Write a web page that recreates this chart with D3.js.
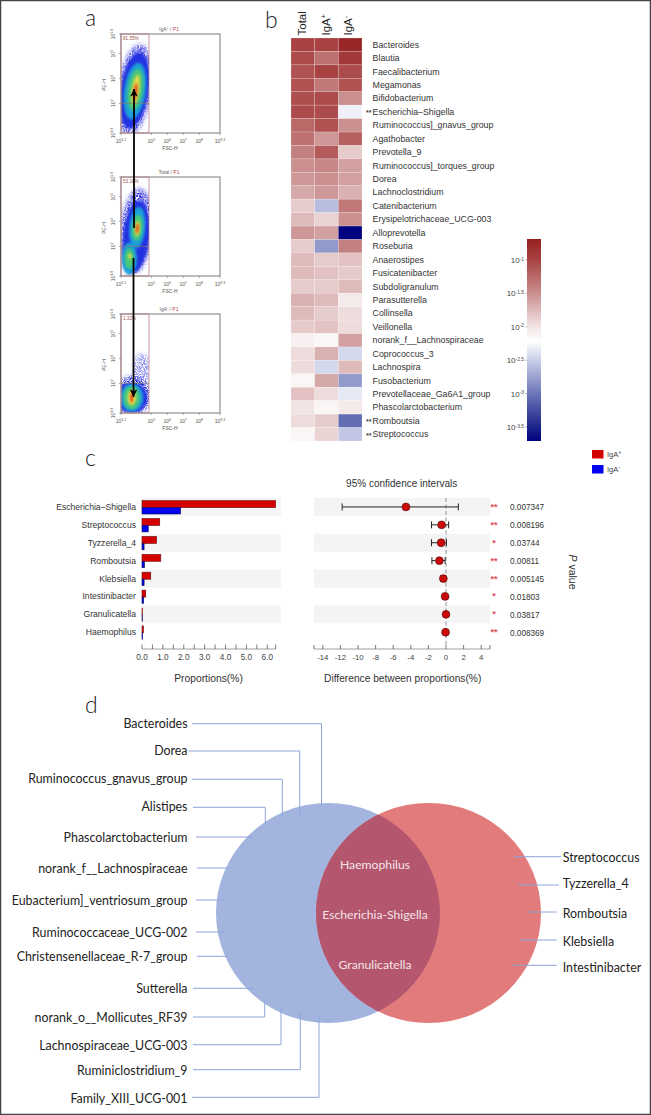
<!DOCTYPE html>
<html><head><meta charset="utf-8">
<script src="https://cdn.jsdelivr.net/npm/d3@7"></script>
<style>html,body{margin:0;background:#fff}svg{display:block}text{font-family:"Liberation Sans",Arial,sans-serif}</style>
</head><body><svg id="c" width="651" height="1115"></svg>
<script>
// ---------- heatmap data (log10 relative abundance) ----------
const heatColumns = ["Total","IgA+","IgA-"];
const heatTaxa = ["Bacteroides","Blautia","Faecalibacterium","Megamonas","Bifidobacterium","Escherichia–Shigella","Ruminococcus]_gnavus_group","Agathobacter","Prevotella_9","Ruminococcus]_torques_group","Dorea","Lachnoclostridium","Catenibacterium","Erysipelotrichaceae_UCG-003","Alloprevotella","Roseburia","Anaerostipes","Fusicatenibacter","Subdoligranulum","Parasutterella","Collinsella","Veillonella","norank_f__Lachnospiraceae","Coprococcus_3","Lachnospira","Fusobacterium","Prevotellaceae_Ga6A1_group","Phascolarctobacterium","Romboutsia","Streptococcus"];
const heatTotal = [-1.0,-1.05,-1.1,-1.1,-1.08,-1.05,-1.25,-1.3,-1.4,-1.5,-1.55,-1.65,-1.85,-1.75,-1.55,-1.85,-1.75,-1.75,-1.85,-1.7,-1.75,-1.85,-2.1,-1.95,-1.95,-2.15,-1.8,-2.0,-1.95,-2.15];
const heatPos = [-1.0,-1.3,-1.0,-1.35,-1.05,-1.05,-1.1,-1.55,-1.15,-1.45,-1.5,-1.55,-2.6,-1.9,-1.6,-2.8,-1.85,-1.8,-1.85,-1.75,-1.85,-1.8,-2.15,-1.7,-2.45,-1.65,-1.95,-2.15,-1.85,-1.9];
const heatNeg = [-0.75,-0.9,-1.05,-1.1,-1.5,-2.3,-1.5,-1.2,-1.85,-1.6,-1.6,-1.7,-1.35,-1.5,-3.7,-1.4,-1.8,-1.85,-1.75,-2.05,-1.95,-1.95,-1.6,-2.45,-1.75,-2.8,-2.35,-2.05,-3.05,-2.55];
const flaggedTaxa = ["Escherichia–Shigella","Romboutsia","Streptococcus"];
const colorTicks = [-1,-1.5,-2,-2.5,-3,-3.5];
const colorStops = [-0.69,-1,-1.5,-2,-2.22,-2.5,-3,-3.5,-3.71];
const colorRange = ["#962020","#a94343","#ca8f8f","#f2e4e4","#ffffff","#c9cfe8","#6d76b8","#1c2489","#00007f"];

// ---------- panel c data ----------
const diffTaxa = ["Escherichia–Shigella","Streptococcus","Tyzzerella_4","Romboutsia","Klebsiella","Intestinibacter","Granulicatella","Haemophilus"];
const propPos = [6.4,0.85,0.7,0.9,0.42,0.18,0.02,0.07];
const propNeg = [1.85,0.3,0.1,0.12,0.1,0.08,0.02,0.03];
const diffMean = [-4.55,-0.5,-0.55,-0.75,-0.3,-0.1,0,-0.05];
const diffLow = [-11.8,-1.65,-1.65,-1.6,-0.6,-0.3,-0.1,-0.15];
const diffHigh = [1.4,0.3,0.05,-0.1,-0.05,0.05,0.1,0.05];
const stars = ["**","**","*","**","**","*","*","**"];
const pValues = ["0.007347","0.008196","0.03744","0.00811","0.005145","0.01803","0.03817","0.008369"];
const propTicks = d3.range(0,6.01,1);
const diffTicks = [-14,-12,-10,-8,-6,-4,-2,0,2,4];

// ---------- flow cytometry: populations in log10 units ----------
const flowTitles = ["IgA+","Total","IgA-"];
const flowPercents = ["81.55%","53.18%","1.32%"];
const flowPopulations = [
  [{x:3.95,y:3.55,rx:1.05,ry:1.85,t:8,l:0},{x:3.95,y:3.52,rx:.88,ry:1.55,t:8,l:6},{x:3.97,y:3.5,rx:.68,ry:1.15,t:8,l:1},{x:4.0,y:3.55,rx:.48,ry:.85,t:8,l:2},{x:4.02,y:3.55,rx:.24,ry:.6,t:8,l:3},{x:4.0,y:3.45,rx:.12,ry:.36,t:8,l:4}],
  [{x:4.05,y:3.6,rx:1.0,ry:1.75,t:5,l:0},{x:4.05,y:3.4,rx:.82,ry:1.45,t:5,l:6},{x:3.62,y:2.5,rx:.48,ry:.65,t:0,l:1},{x:4.12,y:3.75,rx:.5,ry:.85,t:5,l:1},{x:4.12,y:3.75,rx:.34,ry:.52,t:5,l:2},{x:3.62,y:2.5,rx:.3,ry:.42,t:0,l:2},{x:4.12,y:3.72,rx:.16,ry:.3,t:5,l:3},{x:3.65,y:2.6,rx:.1,ry:.12,t:0,l:3},{x:4.12,y:3.72,rx:.09,ry:.2,t:5,l:4}],
  [{x:4.4,y:3.55,rx:.55,ry:.65,t:0,l:5},{x:3.8,y:2.5,rx:1.15,ry:.78,t:0,l:0},{x:3.8,y:2.42,rx:.95,ry:.6,t:0,l:6},{x:3.78,y:2.42,rx:.72,ry:.56,t:0,l:1},{x:3.77,y:2.42,rx:.52,ry:.46,t:0,l:2},{x:3.77,y:2.42,rx:.26,ry:.3,t:0,l:3},{x:3.77,y:2.42,rx:.1,ry:.19,t:0,l:4}]
];
const flowLevels = ["#2b2fe0","#1f9fd8","#48c878","#e6d84a","#e2501c","#9498f0","#2030e0"];
const flowXTicks = [[3.1,"3.1"],[5,"5"],[6,"6"],[7,"7"],[8,"8"],[9.3,"9.3"]];
const flowYTicks = [[1.8,"1.8"],[3,"3"],[4,"4"],[5,"5"],[5.8,"5.8"]];

// ---------- Venn labels ----------
const onlyTotal = ["Bacteroides","Dorea","Ruminococcus_gnavus_group","Alistipes","Phascolarctobacterium","norank_f__Lachnospiraceae","Eubacterium]_ventriosum_group","Ruminococcaceae_UCG-002","Christensenellaceae_R-7_group","Sutterella","norank_o__Mollicutes_RF39","Lachnospiraceae_UCG-003","Ruminiclostridium_9","Family_XIII_UCG-001"];
const onlyRight = ["Streptococcus","Tyzzerella_4","Romboutsia","Klebsiella","Intestinibacter"];
const shared = ["Haemophilus","Escherichia-Shigella","Granulicatella"];

// ---------- layout (no data) ----------
const leftLayout = [[723,192,723.7,321.5,805.7],[750,188.5,751,299.7,815],[778,192,779.3,282.3,817],[806.5,193,807.3,265.3,825],[837,196,837,252],[868,197,868,228.7],[900,196,900,224],[932,196,932,224],[956,197,956.3,226.7],[988,193,988.3,253],[1017,193,1017,264.7,1000.7],[1045,193,1044.7,281,1007],[1070,193,1069.7,300.3,1012],[1098,192,1097.3,319,1016]];
const rightLayout = [[857,514,856.7,561],[883,518,885,559],[913,526.7,912,556.7],[941,520,940,556.7],[967,512.7,965.3,556.7]];
const flowTops = [34,177,314];
const svg = d3.select("#c");
const defs = svg.append("defs");

svg.append("rect").attr("x",.5).attr("y",.5).attr("width",650).attr("height",1114).attr("fill","#fff").attr("stroke","#444").attr("stroke-width",1.5);

function letter(t,x,y){svg.append("text").attr("x",x).attr("y",y).attr("font-size",23).attr("font-weight",300).style("font-family","Lato,'Open Sans',sans-serif").attr("fill","#222").text(t);}
letter("a",85,26);letter("b",265,28);letter("c",85,466);letter("d",85,713);

function sup(sel,base,exp,size){ sel.append("tspan").text(base); sel.append("tspan").attr("dy",-size*.35).attr("font-size",size*.7).text(exp);}

// ---------- panel a ----------
const blur = defs.append("filter").attr("id","soft").attr("x","-20%").attr("y","-20%").attr("width","140%").attr("height","140%");
blur.append("feGaussianBlur").attr("stdDeviation",1.3);
const grain = defs.append("filter").attr("id","grain").attr("x","-20%").attr("y","-20%").attr("width","140%").attr("height","140%");
grain.append("feGaussianBlur").attr("in","SourceGraphic").attr("stdDeviation",2.2).attr("result","b");
grain.append("feTurbulence").attr("type","fractalNoise").attr("baseFrequency",.9).attr("numOctaves",2).attr("seed",4).attr("result","n");
grain.append("feColorMatrix").attr("in","n").attr("type","matrix").attr("values","0 0 0 0 0 0 0 0 0 0 0 0 0 0 0 0 0 0 5 -1.9").attr("result","m");
grain.append("feComposite").attr("in","b").attr("in2","m").attr("operator","in");

flowTops.forEach((top,i)=>{
  const fx=d3.scaleLog().domain([10**3.1,10**9.3]).range([121,220]);
  const fy=d3.scaleLog().domain([10**1.8,10**5.8]).range([top+99,top]);
  const g=svg.append("g");
  const clipId="gate"+i;
  defs.append("clipPath").attr("id",clipId).append("rect").attr("x",fx(10**3.1)).attr("y",fy(10**5.8)).attr("width",28).attr("height",99);
  const pops=g.append("g").attr("clip-path",`url(#${clipId})`).append("g");
  pops.selectAll("ellipse").data(flowPopulations[i]).join("ellipse")
    .attr("cx",d=>fx(10**d.x)).attr("cy",d=>fy(10**d.y))
    .attr("rx",d=>fx(10**(d.x+d.rx))-fx(10**d.x)).attr("ry",d=>fy(10**d.y)-fy(10**(d.y+d.ry)))
    .attr("transform",d=>`rotate(${d.t} ${fx(10**d.x)} ${fy(10**d.y)})`)
    .attr("fill",d=>flowLevels[d.l])
    .attr("filter",d=>(d.l===0||d.l===5)?"url(#grain)":"url(#soft)");
  g.append("rect").attr("x",121).attr("y",top).attr("width",99).attr("height",99).attr("fill","none").attr("stroke","#999").attr("stroke-width",1.3);
  g.append("rect").attr("x",121).attr("y",top).attr("width",28).attr("height",99).attr("fill","none").attr("stroke","#b5747c").attr("stroke-width",.7);
  g.append("line").attr("x1",121).attr("x2",149).attr("y1",fy(1000)).attr("y2",fy(1000)).attr("stroke","#8a7a70").attr("stroke-width",.7);
  flowXTicks.forEach(([v,l])=>{
    const x=fx(10**v);
    g.append("line").attr("x1",x).attr("x2",x).attr("y1",top+99).attr("y2",top+101).attr("stroke","#777").attr("stroke-width",.6);
    const t=g.append("text").attr("x",x).attr("y",top+109).attr("text-anchor","middle").attr("font-size",5).attr("fill","#555");
    sup(t,"10",l,5);
  });
  flowYTicks.forEach(([v,l])=>{
    const y=fy(10**v);
    g.append("line").attr("x1",119).attr("x2",121).attr("y1",y).attr("y2",y).attr("stroke","#777").attr("stroke-width",.6);
    const t=g.append("text").attr("transform",`translate(115,${y}) rotate(-90)`).attr("text-anchor","middle").attr("font-size",5).attr("fill","#555");
    sup(t,"10",l,5);
  });
  g.append("text").attr("x",170).attr("y",top+116).attr("text-anchor","middle").attr("font-size",5).attr("fill","#555").text("FSC-H");
  g.append("text").attr("transform",`translate(106,${top+51}) rotate(-90)`).attr("text-anchor","middle").attr("font-size",5).attr("fill","#555").text("PE-H");
  const tt=g.append("text").attr("x",169).attr("y",top-3.5).attr("text-anchor","middle").attr("font-size",5).attr("fill","#666");
  const m=flowTitles[i].match(/^(IgA)([+-])$/);
  if(m){tt.append("tspan").text(m[1]);tt.append("tspan").attr("dy",-1.5).attr("font-size",3.5).text(m[2]);tt.append("tspan").attr("dy",1.5).text(" / ");}
  else tt.append("tspan").text(flowTitles[i]+" / ");
  tt.append("tspan").attr("fill","#b5474f").text("P1");
  g.append("text").attr("x",123).attr("y",top+5.5).attr("font-size",4.6).attr("fill","#a05050").text(flowPercents[i]);
});
defs.append("marker").attr("id","arr").attr("viewBox","0 0 10 10").attr("refX",10).attr("refY",5).attr("markerWidth",4.2).attr("markerHeight",4.4).attr("orient","auto-start-reverse").append("path").attr("d","M0,0L10,5L0,10L2.5,5Z").attr("fill","#000");
svg.append("line").attr("x1",134).attr("x2",134).attr("y1",228).attr("y2",89).attr("stroke","#000").attr("stroke-width",1.8).attr("marker-end","url(#arr)");
svg.append("line").attr("x1",133.5).attr("x2",133.5).attr("y1",258).attr("y2",397).attr("stroke","#000").attr("stroke-width",1.8).attr("marker-end","url(#arr)");

// ---------- panel b ----------
const heatX=d3.scaleBand().domain(heatColumns).range([291,362]);
const heatY=d3.scaleBand().domain(heatTaxa).range([38,441]);
const heatColor=d3.scaleLinear().domain(colorStops).range(colorRange).clamp(true);
const heatSeries=[heatTotal,heatPos,heatNeg];
heatColumns.forEach((c,j)=>{
  svg.append("g").selectAll("rect").data(heatTaxa).join("rect")
    .attr("x",heatX(c)).attr("y",d=>heatY(d)).attr("width",heatX.bandwidth()).attr("height",heatY.bandwidth())
    .attr("fill",(d,i)=>heatColor(heatSeries[j][i])).attr("stroke","#fff").attr("stroke-opacity",.3).attr("stroke-width",.6);
  const t=svg.append("text").attr("transform",`translate(${heatX(c)+heatX.bandwidth()/2+(j==0?3:j==1?3:2)},35.5) rotate(-90)`).attr("font-size",11.5).attr("fill","#222");
  const m=c.match(/^(IgA)([+-])$/);
  if(m){t.append("tspan").text("Ig");t.append("tspan").text("A");t.append("tspan").attr("dy",-4).attr("font-size",7).text(m[2]==="+"?"+":"-");}
  else t.text(c);
});
svg.append("g").selectAll("text").data(heatTaxa).join("text")
  .attr("x",372.6).attr("y",d=>heatY(d)+heatY.bandwidth()/2+3).attr("font-size",8.8).attr("fill","#333").text(d=>d);
svg.append("g").selectAll("text").data(flaggedTaxa).join("text")
  .attr("x",366).attr("y",d=>heatY(d)+heatY.bandwidth()/2+3.6).attr("font-size",7).attr("font-weight","bold").attr("fill","#444").text("**");

const cbY=d3.scaleLinear().domain([-3.71,-0.686]).range([441,239]);
const grad=defs.append("linearGradient").attr("id","cb").attr("x1",0).attr("x2",0).attr("y1",1).attr("y2",0);
colorStops.map((v,i)=>({v,c:colorRange[i]})).sort((a,b)=>a.v-b.v).forEach(s=>grad.append("stop").attr("offset",(s.v+3.71)/(3.71-0.686)).attr("stop-color",s.c));
svg.append("rect").attr("x",527).attr("y",239).attr("width",14).attr("height",202).attr("fill","url(#cb)");
colorTicks.forEach(v=>{
  svg.append("line").attr("x1",525.5).attr("x2",527).attr("y1",cbY(v)).attr("y2",cbY(v)).attr("stroke","#777").attr("stroke-width",.6);
  const t=svg.append("text").attr("x",524).attr("y",cbY(v)+3).attr("text-anchor","end").attr("font-size",8).attr("fill","#444");
  sup(t,"10",String(v),7);
});

// ---------- legend ----------
[["#d40000","+",450],["#0000ee","-",465]].forEach(([c,s,y])=>{
  svg.append("rect").attr("x",592).attr("y",y).attr("width",11.5).attr("height",8.5).attr("fill",c);
  const t=svg.append("text").attr("x",607).attr("y",y+7).attr("font-size",7.5).attr("fill","#444");
  sup(t,"IgA",s,7.5);
});

// ---------- panel c ----------
const rowY=d3.scaleBand().domain(diffTaxa).range([498,641.2]);
const px=d3.scaleLinear().domain([0,6]).range([142,267.3]);
const dx=d3.scaleLinear().domain([-15,5]).range([314,490]);
const bands=diffTaxa.filter((d,i)=>i%2===0);
svg.append("g").selectAll("rect").data(bands).join("rect").attr("x",142).attr("width",139).attr("y",d=>rowY(d)).attr("height",rowY.bandwidth()).attr("fill","#f4f4f4");
svg.append("g").selectAll("rect").data(bands).join("rect").attr("x",dx(-15)).attr("width",dx(5)-dx(-15)).attr("y",d=>rowY(d)).attr("height",rowY.bandwidth()).attr("fill","#f4f4f4");
svg.append("g").selectAll("rect").data(diffTaxa).join("rect").attr("x",px(0)).attr("y",d=>rowY(d)+2.6).attr("height",7).attr("width",(d,i)=>px(propPos[i])-px(0)).attr("fill","#d40000").attr("stroke","#6b1010").attr("stroke-width",.6);
svg.append("g").selectAll("rect").data(diffTaxa).join("rect").attr("x",px(0)).attr("y",d=>rowY(d)+9.6).attr("height",6.4).attr("width",(d,i)=>px(propNeg[i])-px(0)).attr("fill","#0000ee").attr("stroke","#101050").attr("stroke-width",.6);
svg.append("g").selectAll("text").data(diffTaxa).join("text").attr("x",136).attr("y",d=>rowY(d)+rowY.bandwidth()/2+3).attr("text-anchor","end").attr("font-size",8.6).attr("fill","#333").text(d=>d);
const axisY=649;
const pAxis=svg.append("g");
pAxis.append("line").attr("x1",px(0)).attr("x2",px(6.4)).attr("y1",axisY).attr("y2",axisY).attr("stroke","#888").attr("stroke-width",.8);
d3.range(0,6.41,.5).forEach(v=>pAxis.append("line").attr("x1",px(v)).attr("x2",px(v)).attr("y1",axisY-4.5).attr("y2",axisY).attr("stroke","#444").attr("stroke-width",.7));
pAxis.append("line").attr("x1",px(6.4)).attr("x2",px(6.4)).attr("y1",axisY-4.5).attr("y2",axisY).attr("stroke","#444").attr("stroke-width",.7);
pAxis.selectAll("text.t").data(propTicks).join("text").attr("x",d=>px(d)).attr("y",660).attr("text-anchor","middle").attr("font-size",8.2).attr("fill","#444").text(d=>d.toFixed(1));
svg.append("text").attr("x",208.5).attr("y",681.5).attr("text-anchor","middle").attr("font-size",10.3).attr("fill","#333").text("Proportions(%)");
svg.append("text").attr("x",401.7).attr("y",486.5).attr("text-anchor","middle").attr("font-size",10).attr("fill","#333").text("95% confidence intervals");
svg.append("line").attr("x1",dx(0)).attr("x2",dx(0)).attr("y1",498).attr("y2",645).attr("stroke","#888").attr("stroke-width",.9).attr("stroke-dasharray","4 2.5");
const ci=svg.append("g").attr("stroke","#222").attr("stroke-width",1);
diffTaxa.forEach((d,i)=>{
  const y=rowY(d)+rowY.bandwidth()/2;
  ci.append("line").attr("x1",dx(diffLow[i])).attr("x2",dx(diffHigh[i])).attr("y1",y).attr("y2",y);
  [diffLow[i],diffHigh[i]].forEach(v=>ci.append("line").attr("x1",dx(v)).attr("x2",dx(v)).attr("y1",y-3.5).attr("y2",y+3.5));
});
svg.append("g").selectAll("circle").data(diffTaxa).join("circle").attr("cx",(d,i)=>dx(diffMean[i])).attr("cy",d=>rowY(d)+rowY.bandwidth()/2).attr("r",3.9).attr("fill","#cc0a0a").attr("stroke","#5a1010").attr("stroke-width",.7);
svg.append("g").selectAll("text").data(diffTaxa).join("text").attr("x",494).attr("y",d=>rowY(d)+rowY.bandwidth()/2+3).attr("text-anchor","middle").attr("font-size",9).attr("font-weight","bold").attr("fill","#e0505f").text((d,i)=>stars[i]);
svg.append("g").selectAll("text").data(diffTaxa).join("text").attr("x",510).attr("y",d=>rowY(d)+rowY.bandwidth()/2+3.5).attr("font-size",8.2).attr("fill","#333").text((d,i)=>pValues[i]);
const dAxis=svg.append("g");
dAxis.append("line").attr("x1",dx(-15)).attr("x2",dx(5)).attr("y1",axisY).attr("y2",axisY).attr("stroke","#888").attr("stroke-width",.8);
[-15,...diffTicks,5].forEach(v=>dAxis.append("line").attr("x1",dx(v)).attr("x2",dx(v)).attr("y1",axisY-4).attr("y2",axisY).attr("stroke","#444").attr("stroke-width",.7));
dAxis.selectAll("text").data(diffTicks).join("text").attr("x",d=>dx(d)).attr("y",660).attr("text-anchor","middle").attr("font-size",7.8).attr("fill","#444").text(d=>d);
svg.append("text").attr("x",402.7).attr("y",681.5).attr("text-anchor","middle").attr("font-size",10.2).attr("fill","#333").text("Difference between proportions(%)");
const pv=svg.append("text").attr("transform","translate(569,572) rotate(90)").attr("text-anchor","middle").attr("font-size",10.5).attr("fill","#333");
pv.append("tspan").attr("font-style","italic").text("P");pv.append("tspan").text(" value");

// ---------- panel d ----------
const venn=svg.append("g");
venn.append("ellipse").attr("cx",328).attr("cy",913).attr("rx",112).attr("ry",110).attr("fill","#a3b4df");
venn.append("ellipse").attr("cx",428.5).attr("cy",913).attr("rx",112.5).attr("ry",110).attr("fill","#e27b7b");
defs.append("clipPath").attr("id","lens").append("ellipse").attr("cx",328).attr("cy",913).attr("rx",112).attr("ry",110);
venn.append("ellipse").attr("cx",428.5).attr("cy",913).attr("rx",112.5).attr("ry",110).attr("fill","#b3566e").attr("clip-path","url(#lens)");
const leaderColor="#8ea4d8";
onlyTotal.forEach((name,i)=>{
  const [ty,x0,y0,x1,y1]=leftLayout[i];
  const path=d3.path();path.moveTo(x0,y0);path.lineTo(x1,y0);if(y1!==undefined)path.lineTo(x1,y1);
  venn.append("path").attr("d",path.toString()).attr("fill","none").attr("stroke",leaderColor).attr("stroke-width",1);
  venn.append("text").attr("x",187.5).attr("y",ty+4.5).attr("text-anchor","end").attr("font-size",12.4).style("font-family","Lato,Carlito,sans-serif").attr("fill","#222").text(name);
});
onlyRight.forEach((name,i)=>{
  const [ty,x0,y0,x1]=rightLayout[i];
  venn.append("line").attr("x1",x0).attr("x2",x1).attr("y1",y0).attr("y2",y0).attr("stroke",leaderColor).attr("stroke-width",1);
  venn.append("text").attr("x",562.7).attr("y",ty+4.5).attr("font-size",12.4).style("font-family","Lato,Carlito,sans-serif").attr("fill","#222").text(name);
});
[864.7,914,964].forEach((y,i)=>venn.append("text").attr("x",375).attr("y",y+4.5).attr("text-anchor","middle").attr("font-size",12.2).style("font-family","Lato,Carlito,sans-serif").attr("fill","#f6e4e8").text(shared[i]));
</script></body></html>
